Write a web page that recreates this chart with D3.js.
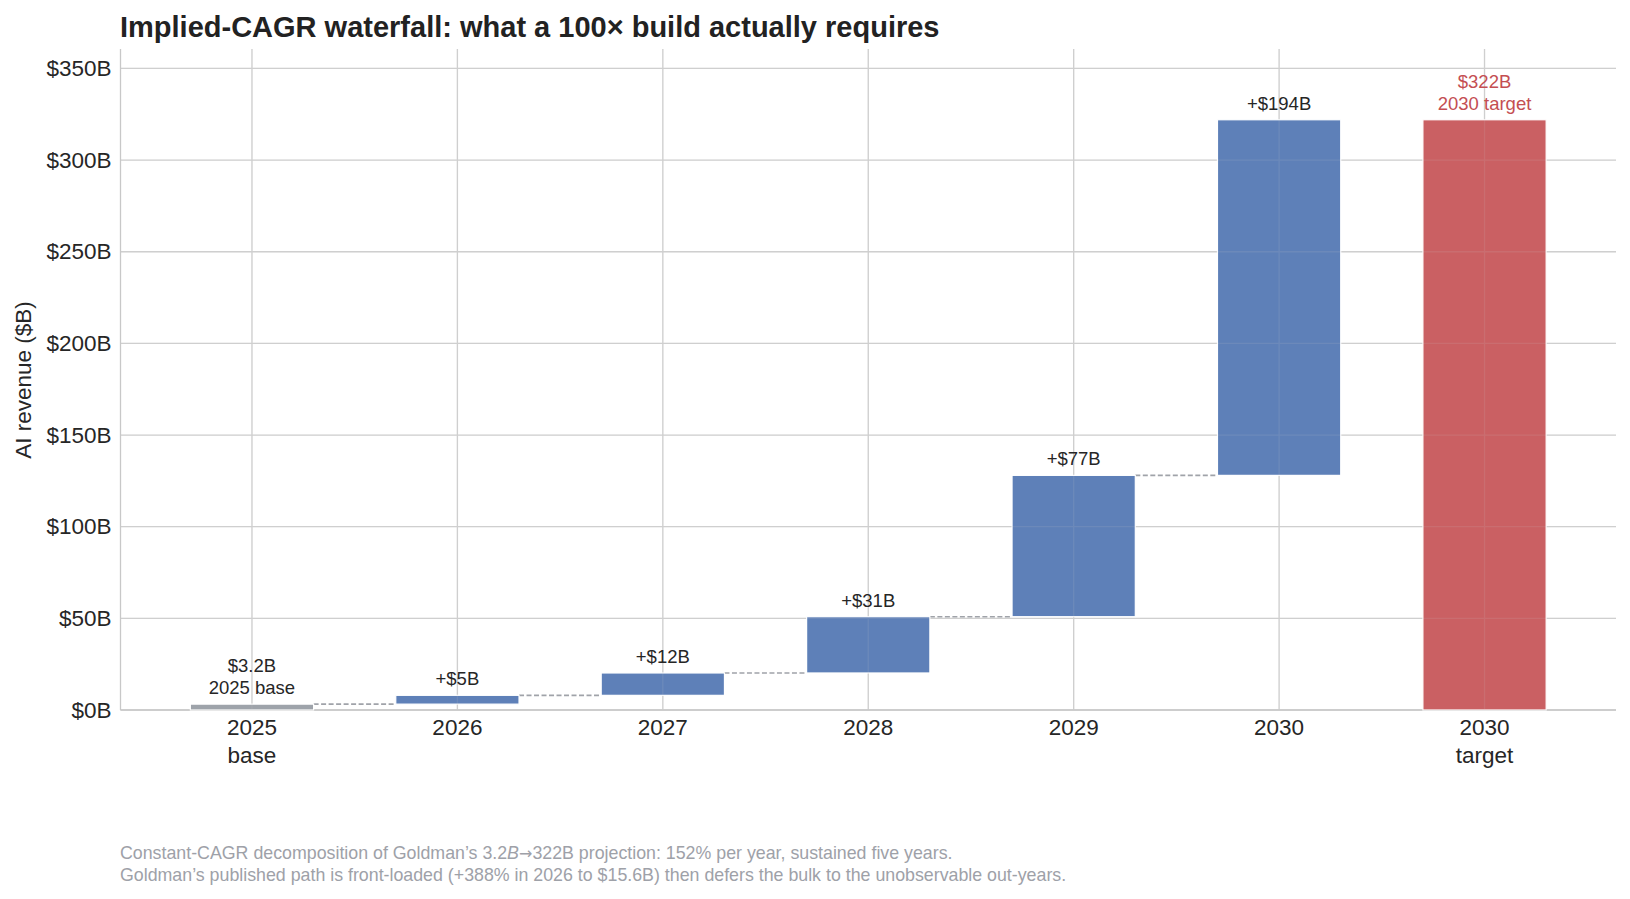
<!DOCTYPE html>
<html><head><meta charset="utf-8">
<script src="https://cdn.jsdelivr.net/npm/d3@7"></script>
<style>
html,body{margin:0;padding:0;background:#fff;}
svg{display:block;font-family:"Liberation Sans",Arial,sans-serif;}
</style></head>
<body><svg id="c" width="1630" height="899"></svg>
<script>
const categories = ["2025|base","2026","2027","2028","2029","2030","2030|target"];
const barStart = [0, 3.2, 8.0, 20.2, 50.9, 128.0, 0];
const barEnd   = [3.2, 8.0, 20.2, 50.9, 128.0, 322.0, 322.0];
const barKind  = ["base","step","step","step","step","step","total"];
const barLabels = ["$3.2B|2025 base","+$5B","+$12B","+$31B","+$77B","+$194B","$322B|2030 target"];
const yTicks = [0,50,100,150,200,250,300,350];
const yMax = 360.6;

const W=1630,H=899;
const m={l:120.5,r:1616,t:49,b:710};
const svg=d3.select("#c");
const colors={base:"#9ea3aa",step:"#5e80b8",total:"#ca6063"};
const labelColor={base:"#262626",step:"#262626",total:"#c44e52"};

const x=d3.scaleBand().domain(categories).range([m.l,m.r]).paddingInner(0.4).paddingOuter(0.34);
const y=d3.scaleLinear().domain([0,yMax]).range([m.b,m.t]);

// grid
const g=svg.append("g");
g.selectAll(".hg").data(yTicks).join("line")
  .attr("x1",m.l).attr("x2",m.r).attr("y1",d=>y(d)).attr("y2",d=>y(d))
  .attr("stroke","#cfcfcf").attr("stroke-width",1.3);
g.selectAll(".vg").data(categories).join("line")
  .attr("x1",d=>x(d)+x.bandwidth()/2).attr("x2",d=>x(d)+x.bandwidth()/2)
  .attr("y1",m.t).attr("y2",m.b)
  .attr("stroke","#cfcfcf").attr("stroke-width",1.3);

// y axis
const yAxis=d3.axisLeft(y).tickValues(yTicks).tickSize(0).tickPadding(9).tickFormat(d=>"$"+d+"B");
const ya=svg.append("g").attr("transform",`translate(${m.l},0)`).call(yAxis);
ya.select(".domain").attr("stroke","#c8c8c8").attr("stroke-width",1.3).attr("d",`M0,${m.t}V${m.b}`);
ya.selectAll("text").attr("font-size",22.5).attr("fill","#262626").attr("font-family","Liberation Sans, Arial, sans-serif");

// x axis
const xAxis=d3.axisBottom(x).tickSize(0).tickPadding(0).tickFormat("");
const xa=svg.append("g").attr("transform",`translate(0,${m.b})`).call(xAxis);
xa.select(".domain").attr("stroke","#c8c8c8").attr("stroke-width",1.3).attr("d",`M${m.l},0H${m.r}`);
xa.selectAll(".tick").each(function(d){
  const t=d3.select(this).append("text").attr("text-anchor","middle").attr("fill","#262626")
    .attr("font-size",22.5).attr("font-family","Liberation Sans, Arial, sans-serif");
  d.split("|").forEach((s,i)=>t.append("tspan").attr("x",0).attr("y",25+i*28).text(s));
});

// connectors
const conn=d3.range(categories.length-2);
svg.selectAll(".conn").data(conn).join("line")
  .attr("x1",i=>x(categories[i])+x.bandwidth()).attr("x2",i=>x(categories[i+1]))
  .attr("y1",i=>y(barEnd[i])).attr("y2",i=>y(barEnd[i]))
  .attr("stroke","#a0a3a9").attr("stroke-width",1.6).attr("stroke-dasharray","5,2.5");

// bars
svg.selectAll(".bar").data(categories).join("rect")
  .attr("x",d=>x(d)).attr("width",x.bandwidth())
  .attr("y",(d,i)=>y(Math.max(barStart[i],barEnd[i])))
  .attr("height",(d,i)=>Math.abs(y(barStart[i])-y(barEnd[i])))
  .attr("fill",(d,i)=>colors[barKind[i]])
  .attr("stroke","#fff").attr("stroke-width",1.2);
// faint grid through bars
g.clone(true).attr("opacity",0.12).raise();

// bar labels
svg.selectAll(".bl").data(categories).join("text")
  .attr("text-anchor","middle").attr("font-size",18.5)
  .attr("fill",(d,i)=>labelColor[barKind[i]])
  .each(function(d,i){
    const lines=barLabels[i].split("|");
    const cx=x(d)+x.bandwidth()/2;
    const top=y(barEnd[i]);
    lines.forEach((s,k)=>d3.select(this).append("tspan").attr("x",cx)
      .attr("y",top-10-(lines.length-1-k)*22).text(s));
  });

// title
svg.append("text").attr("x",120).attr("y",37).attr("font-size",29).attr("font-weight","bold")
  .attr("fill","#222").text("Implied-CAGR waterfall: what a 100× build actually requires");

// y label
svg.append("text").attr("transform","translate(31,380) rotate(-90)").attr("text-anchor","middle")
  .attr("font-size",22.5).attr("fill","#262626").text("AI revenue ($B)");

// footnote
const fn=svg.append("text").attr("x",120).attr("y",859).attr("font-size",17.8).attr("fill","#9ea1a8");
fn.append("tspan").text("Constant-CAGR decomposition of Goldman’s 3.2");
fn.append("tspan").attr("font-style","italic").text("B");
fn.append("tspan").attr("font-family","DejaVu Sans").attr("font-size",16).text("→");
fn.append("tspan").text("322B projection: 152% per year, sustained five years.");
svg.append("text").attr("x",120).attr("y",881).attr("font-size",17.8).attr("fill","#9ea1a8")
  .text("Goldman’s published path is front-loaded (+388% in 2026 to $15.6B) then defers the bulk to the unobservable out-years.");
</script></body></html>
